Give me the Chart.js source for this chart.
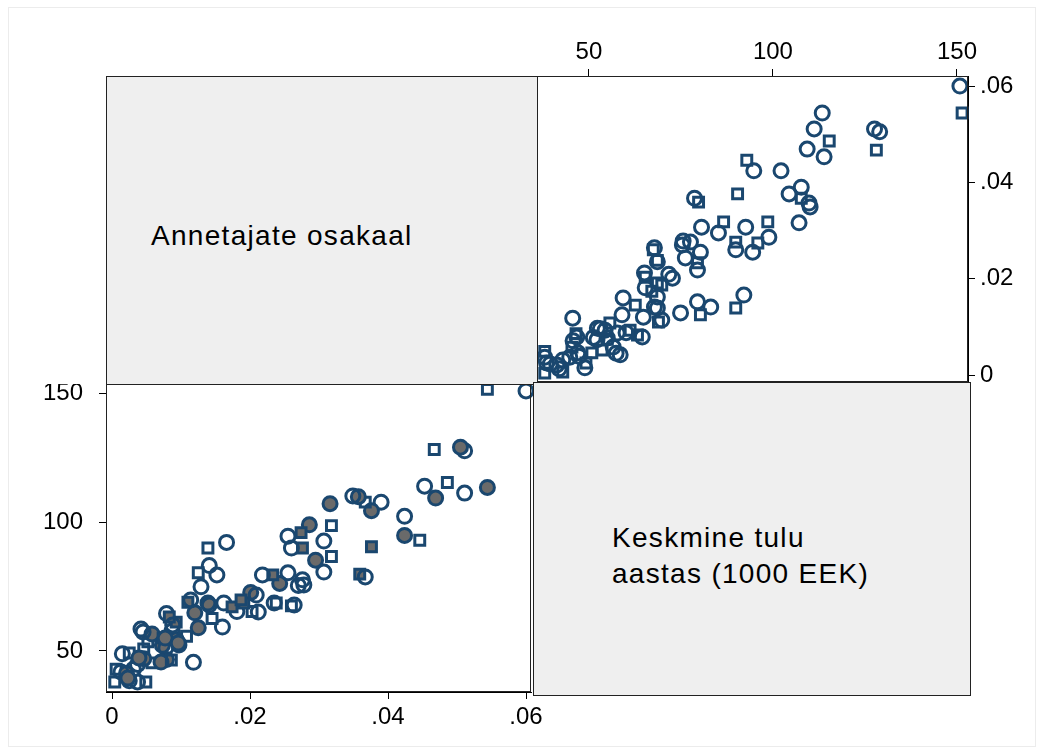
<!DOCTYPE html>
<html lang="et">
<head>
<meta charset="UTF-8">
<title>Annetajate osakaal vs keskmine tulu</title>
<style>
    body {
        margin: 0;
        background: #ffffff;
        font-family: "Liberation Sans", Arial, sans-serif;
    }
    .page {
        position: relative;
        width: 1042px;
        height: 751px;
        overflow: hidden;
    }
    .frame {
        position: absolute;
        left: 8px; top: 7px; width: 1026px; height: 738px;
        border: 1px solid #ececec;
    }
    .label-box {
        position: absolute;
        background: #efefef;
        border: 1px solid #222;
        box-sizing: border-box;
        font-size: 28px;
        letter-spacing: 1.3px;
        color: #000;
        line-height: 36px;
    }
    .label-box span {
        position: absolute;
        white-space: nowrap;
    }
    canvas { position: absolute; }
</style>
</head>
<body>
<div class="page">
    <div class="frame"></div>

    <canvas id="topRight" width="505" height="354" style="left:537px; top:28px;"></canvas>
    <canvas id="bottomLeft" width="555" height="366" style="left:16px; top:384px;"></canvas>

    <!-- diagonal label cells -->
    <div class="label-box" style="left:106px; top:76px; width:432px; height:309px;">
        <span style="left:44px; top:141px;">Annetajate osakaal</span>
    </div>
    <div class="label-box" style="left:533px; top:382px; width:438px; height:314px;">
        <span style="left:78px; top:137px;">Keskmine tulu<br>aastas (1000 EEK)</span>
    </div>
</div>

<script src="https://cdn.jsdelivr.net/npm/chart.js"></script>
<script>
    // average yearly income (1000 EEK)
    const income = [
        150.8, 151.4, 113.4, 111.2, 115.3, 127.6, 129.0, 128.1, 109.3, 113.9,
        92.9, 94.8, 102.2, 90.4, 107.7, 104.4, 107.7, 109.8, 110.1, 79.8,
        78.7, 80.6, 86.6, 85.2, 92.6, 98.6, 98.9, 107.1, 89.9, 94.5,
        89.9, 95.9, 75.4, 77.6, 67.5, 68.6, 76.2, 79.5, 80.3, 79.5,
        65.3, 72.7, 65.3, 68.6, 68.6, 92.1, 89.9, 79.5, 83.1, 80.3,
        74.9, 59.3, 62.6, 68.6, 45.6, 68.9, 64.8, 59.0, 55.7, 54.4,
        57.7, 61.2, 64.5, 46.7, 45.4, 47.0, 52.2, 53.6, 56.6, 58.5,
        50.8, 48.9, 42.9, 42.9, 38.0, 38.5, 38.0, 41.3, 44.8, 67.1,
        69.8, 67.8, 69.8, 71.7, 65.1, 68.6, 67.8, 75.6, 63.2, 60.1,
        57.4, 55.0, 51.2, 52.3, 49.2, 47.3, 45.7, 46.5, 41.9, 39.5,
        38.0, 55.0, 53.1
    ];
    // share of donors
    const share = [
        0.0600, 0.0544, 0.0544, 0.0511, 0.0486, 0.0511, 0.0505, 0.0467, 0.0469, 0.0453,
        0.0446, 0.0424, 0.0424, 0.0376, 0.0390, 0.0376, 0.0367, 0.0357, 0.0349, 0.0359,
        0.0367, 0.0307, 0.0318, 0.0295, 0.0307, 0.0318, 0.0286, 0.0316, 0.0276, 0.0255,
        0.0260, 0.0274, 0.0270, 0.0276, 0.0260, 0.0235, 0.0243, 0.0233, 0.0255, 0.0218,
        0.0203, 0.0201, 0.0181, 0.0191, 0.0162, 0.0166, 0.0139, 0.0152, 0.0141, 0.0125,
        0.0129, 0.0160, 0.0145, 0.0139, 0.0118, 0.0110, 0.0120, 0.0125, 0.0108, 0.0093,
        0.0087, 0.0093, 0.0079, 0.0079, 0.0058, 0.0046, 0.0073, 0.0052, 0.0058, 0.0042,
        0.0046, 0.0015, 0.0031, 0.0006, 0.0037, 0.0025, 0.0004, 0.0021, 0.0037, 0.0174,
        0.0114, 0.0141, 0.0187, 0.0209, 0.0212, 0.0238, 0.0264, 0.0278, 0.0083, 0.0088,
        0.0045, 0.0074, 0.0078, 0.0097, 0.0025, 0.0039, 0.0071, 0.0086, 0.0013, 0.0023,
        0.0049, 0.0077, 0.0096
    ];
    // points drawn with a grey fill in the lower-left cell
    const filled = [
        0, 0, 1, 0, 0, 0, 1, 0, 1, 0,
        0, 1, 0, 1, 0, 1, 0, 1, 0, 1,
        0, 0, 0, 1, 0, 0, 1, 1, 1, 0,
        0, 1, 0, 0, 0, 0, 1, 1, 0, 0,
        0, 1, 0, 1, 0, 0, 0, 0, 0, 0,
        0, 0, 0, 1, 0, 1, 1, 1, 0, 1,
        0, 1, 0, 1, 0, 1, 1, 0, 1, 0,
        0, 0, 0, 0, 0, 0, 0, 1, 0, 1,
        0, 0, 1, 0, 0, 0, 0, 0, 1, 0,
        0, 1, 0, 1, 0, 1, 1, 0, 0, 1,
        0, 1, 1
    ];

    const incomeTicks = [50, 100, 150];
    const incomeLabels = ['50', '100', '150'];
    const shareTicks = [0, 0.02, 0.04, 0.06];
    const shareLabels = ['0', '.02', '.04', '.06'];

    const navy = '#1a476f';
    const tickFont = { family: '"Liberation Sans", Arial, sans-serif', size: 24 };

    // black box round the plot region
    const frame = {
        id: 'frame',
        afterDraw(chart) {
            const a = chart.chartArea;
            const c = chart.ctx;
            c.save();
            c.strokeStyle = '#222';
            c.lineWidth = 1;
            c.strokeRect(a.left + 0.5, a.top + 0.5, a.right - a.left - 1, a.bottom - a.top - 1);
            c.restore();
        }
    };

    function fixedTicks(values) {
        return scale => { scale.ticks = values.map(v => ({ value: v })); };
    }

    function axis(pos, min, max, values, labels, size, pad) {
        return {
            type: 'linear',
            position: pos,
            min: min,
            max: max,
            afterBuildTicks: fixedTicks(values),
            afterFit: s => {
                if (pos === 'left' || pos === 'right') s.width = size; else s.height = size;
                // keep the plot region where it is, labels may overflow
                s.paddingLeft = s.paddingRight = s.paddingTop = s.paddingBottom = 0;
            },
            grid: { drawOnChartArea: false, drawTicks: true, tickLength: 7, color: '#000', tickWidth: 1 },
            border: { display: true, color: '#000', width: 1 },
            ticks: {
                color: '#000',
                font: tickFont,
                padding: pad,
                maxRotation: 0,
                autoSkip: false,
                callback: (v, i) => labels[i]
            }
        };
    }

    function markerStyle(ctx) {
        return ctx.dataIndex % 3 === 1 ? 'rect' : 'circle';
    }

    // upper right: income on x (top axis), share on y (right axis)
    new Chart(document.getElementById('topRight'), {
        type: 'scatter',
        data: {
            datasets: [{
                data: income.map((v, i) => ({ x: v, y: share[i] })),
                borderColor: navy,
                backgroundColor: 'rgba(0,0,0,0)',
                borderWidth: 3,
                pointRadius: 7,
                pointStyle: markerStyle,
                clip: false
            }]
        },
        options: {
            responsive: false,
            animation: false,
            layout: { padding: 0, autoPadding: false },
            plugins: { legend: { display: false }, tooltip: { enabled: false } },
            scales: {
                x: axis('top', 35.9, 153.0, incomeTicks, incomeLabels, 48, 2),
                y: axis('right', -0.00145, 0.06208, shareTicks, shareLabels, 74, 5)
            }
        },
        plugins: [frame]
    });

    // lower left: share on x (bottom axis), income on y (left axis)
    new Chart(document.getElementById('bottomLeft'), {
        type: 'scatter',
        data: {
            datasets: [{
                data: share.map((v, i) => ({ x: v, y: income[i] })),
                borderColor: navy,
                backgroundColor: ctx => filled[ctx.dataIndex] ? '#6a6a6a' : 'rgba(0,0,0,0)',
                borderWidth: 3,
                pointRadius: 7,
                pointStyle: markerStyle,
                clip: false
            }]
        },
        options: {
            responsive: false,
            animation: false,
            layout: { padding: { left: 0, top: 0, bottom: 0, right: 40 }, autoPadding: false },
            plugins: { legend: { display: false }, tooltip: { enabled: false } },
            scales: {
                x: axis('bottom', -0.00087, 0.06072, shareTicks, shareLabels, 58, 4),
                y: axis('left', 34.1, 153.5, incomeTicks, incomeLabels, 90, 16)
            }
        },
        plugins: [frame]
    });
</script>
</body>
</html>
